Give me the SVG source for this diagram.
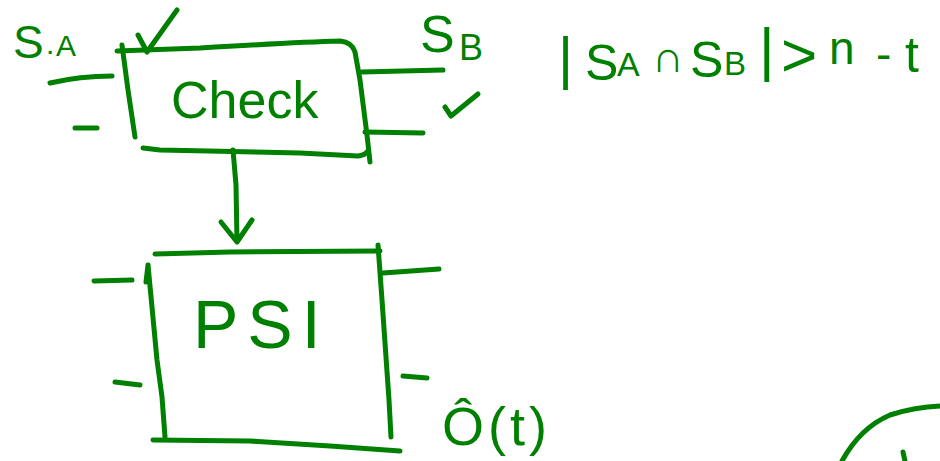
<svg xmlns="http://www.w3.org/2000/svg" width="940" height="461" viewBox="0 0 940 461">
  <style>
    .ink { fill: none; stroke: #008000; stroke-width: 5; stroke-linecap: round; stroke-linejoin: round; }
    .hand { fill: #008000; font-family: "Liberation Sans", "DejaVu Sans", sans-serif; }
  </style>
  <rect width="940" height="461" fill="#ffffff"/>

  <!-- Check block with its input and output stubs -->
  <g id="check">
    <path class="ink" d="M117,51 L200,48 Q300,42 340,41 Q352,42 355,52 L360,80 L367,135 L370,162"/>
    <path class="ink" d="M122,45 L128,90 L135,137"/>
    <path class="ink" d="M143,148 L160,150 L300,153 L358,156 Q365,155 367,152"/>
    <path class="ink" d="M50,83 Q80,76 112,76"/>
    <path class="ink" d="M75,128 L97,128"/>
    <path class="ink" d="M362,72 L443,70"/>
    <path class="ink" d="M365,132 L423,133"/>
    <text class="hand" x="171" y="118" font-size="52">Check</text>
  </g>

  <!-- PSI block with its input and output stubs -->
  <g id="psi">
    <path class="ink" d="M155,254 L230,252 L380,251"/>
    <path class="ink" d="M378,245 L382,300 L389,400 L391,437"/>
    <path class="ink" d="M148,265 L146,282 M148,265 L157,360 L162,397 L165,437"/>
    <path class="ink" d="M153,440 L250,441 L330,446 L400,451"/>
    <path class="ink" d="M94,281 L132,280"/>
    <path class="ink" d="M115,382 L140,385"/>
    <path class="ink" d="M383,273 L439,269"/>
    <path class="ink" d="M403,376 L427,378"/>
    <text class="hand" x="193" y="348" font-size="68" letter-spacing="9">PSI</text>
  </g>

  <!-- Connectors -->
  <g id="connectors">
    <path class="ink" d="M177,10 L147,52 M138,35 L147,52"/>
    <path class="ink" d="M233,150 L236,185 L237,242 M221,222 L237,242 L252,220"/>
  </g>

  <!-- Labels and marks -->
  <g id="labels">
    <text class="hand"><tspan x="13" y="58" font-size="46">S</tspan><tspan x="46" y="54" font-size="30">.</tspan><tspan x="56" y="56" font-size="30">A</tspan></text>
    <text class="hand"><tspan x="420" y="52" font-size="52">S</tspan><tspan x="459" y="60" font-size="36">B</tspan></text>
    <path class="ink" d="M445,107 L451,116 L478,94"/>
    <text class="hand">
      <tspan x="558" y="78" font-size="58">|</tspan>
      <tspan x="585" y="80" font-size="50">S</tspan>
      <tspan x="617" y="76" font-size="34">A</tspan>
      <tspan x="652" y="72" font-size="44">∩</tspan>
      <tspan x="690" y="77" font-size="50">S</tspan>
      <tspan x="724" y="75" font-size="33">B</tspan>
      <tspan x="759" y="70" font-size="60">|</tspan>
      <tspan x="781" y="76" font-size="62">&gt;</tspan>
      <tspan x="829" y="64" font-size="46">n</tspan>
      <tspan x="876" y="70" font-size="46">-</tspan>
      <tspan x="905" y="72" font-size="50">t</tspan>
    </text>
    <text class="hand" x="442" y="445" font-size="54" letter-spacing="4">Ô(t)</text>
    <path class="ink" d="M842,461 Q860,428 890,415 Q915,407 940,406"/>
    <path class="ink" d="M903,452 L905,461"/>
  </g>
</svg>
